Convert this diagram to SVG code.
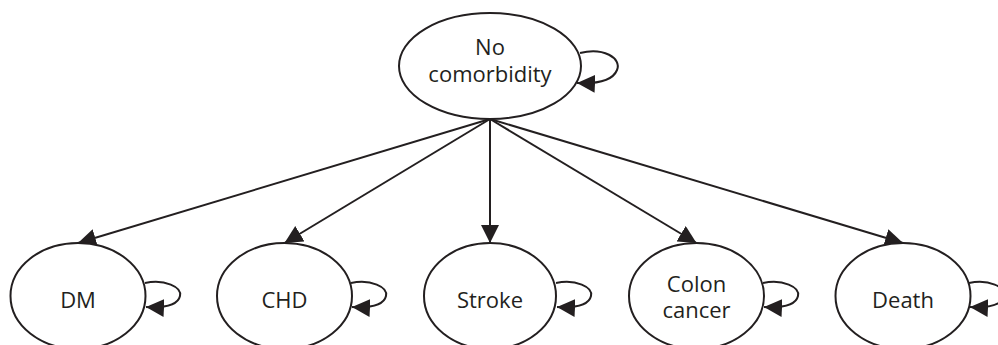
<svg xmlns="http://www.w3.org/2000/svg" width="998" height="345" viewBox="0 0 998 345">
<style>
.node ellipse{fill:#fff;stroke:#231f20;stroke-width:2}
.conn path,.conn line{fill:none;stroke:#231f20;stroke-width:2}
text{font-family:"Open Sans","Liberation Sans",sans-serif;font-size:22px;fill:#231f20;text-anchor:middle}
</style>
<defs>
<marker id="ah" markerUnits="userSpaceOnUse" markerWidth="18" markerHeight="18" refX="18" refY="9" orient="auto" viewBox="0 0 18 18">
<path d="M0,0 L18,9 L0,18 z" fill="#231f20"/>
</marker>
</defs>
<g id="connectors" class="conn">
<line x1="490" y1="119" x2="78" y2="243" marker-end="url(#ah)"/>
<line x1="490" y1="119" x2="284.5" y2="243" marker-end="url(#ah)"/>
<line x1="490" y1="119" x2="490" y2="243" marker-end="url(#ah)"/>
<line x1="490" y1="119" x2="696.5" y2="243" marker-end="url(#ah)"/>
<line x1="490" y1="119" x2="903" y2="243" marker-end="url(#ah)"/>
<path d="M580,53 C603,47 622,58 617,70 C613,80 598,84 577,83" marker-end="url(#ah)"/>
<path d="M145,283 C165,279 182,287 180,296 C178,305 165,308 146,307" marker-end="url(#ah)"/>
<path d="M351,283 C371,279 388,287 386,296 C384,305 371,308 352,307" marker-end="url(#ah)"/>
<path d="M556,283 C576,279 593,287 591,296 C589,305 576,308 557,307" marker-end="url(#ah)"/>
<path d="M763,283 C783,279 800,287 798,296 C796,305 783,308 764,307" marker-end="url(#ah)"/>
<path d="M969,283 C989,279 1006,287 1004,296 C1002,305 989,308 970,307" marker-end="url(#ah)"/>
</g>
<g id="no-comorbidity" class="node">
<ellipse cx="490" cy="66" rx="91" ry="53"/>
<text x="490" y="55">No</text>
<text x="490" y="82">comorbidity</text>
</g>
<g id="dm" class="node">
<ellipse cx="78" cy="296" rx="67.5" ry="53"/>
<text x="78" y="308">DM</text>
</g>
<g id="chd" class="node">
<ellipse cx="284.5" cy="296" rx="67.5" ry="53"/>
<text x="284.5" y="308">CHD</text>
</g>
<g id="stroke" class="node">
<ellipse cx="490" cy="296" rx="66" ry="53"/>
<text x="490" y="308">Stroke</text>
</g>
<g id="colon-cancer" class="node">
<ellipse cx="696.5" cy="296" rx="67.5" ry="53"/>
<text x="696.5" y="292">Colon</text>
<text x="696.5" y="318">cancer</text>
</g>
<g id="death" class="node">
<ellipse cx="903" cy="296" rx="67.5" ry="53"/>
<text x="903" y="308">Death</text>
</g>
</svg>
